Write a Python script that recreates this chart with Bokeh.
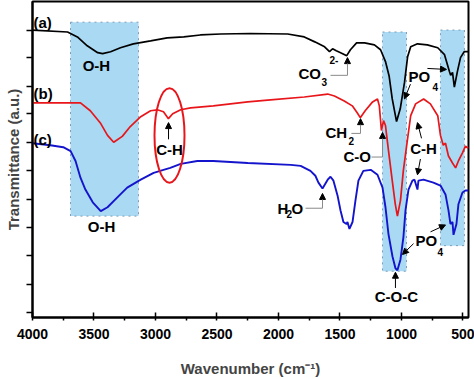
from bokeh.plotting import figure
from bokeh.models import Range1d, SingleIntervalTicker, FixedTicker, Arrow, NormalHead
from bokeh.core.properties import value
from bokeh.embed import file_html
from bokeh.resources import INLINE

# ---------------- data (wavenumber cm^-1, transmittance a.u.) ----------------
wn_a = [4000, 3715, 3635, 3555, 3470, 3430, 3365, 3285, 3180, 3040, 2905, 2770, 2635, 2470, 2230,
        1925, 1790, 1705, 1625, 1585, 1560, 1530, 1495, 1445, 1415, 1365, 1300, 1220, 1170, 1130,
        1100, 1075, 1040, 1010, 975, 950, 925, 870, 790, 705, 650, 610, 600, 585, 570, 545, 520, 490, 455]
t_a = [292, 290, 285, 276, 269, 268, 270, 274, 278, 281, 284, 285, 287, 288, 288.5,
       288, 285, 280, 275, 270, 273, 271, 269, 266, 272, 279, 279, 277, 272, 260,
       245, 222, 199, 212, 239, 265, 275, 278, 277, 274, 267, 250, 246, 249, 234, 250, 264, 270, 270]

wn_b = [4000, 3610, 3530, 3445, 3390, 3340, 3270, 3205, 3120, 3040, 2985, 2935, 2895, 2860, 2795,
        2715, 2530, 2250, 2065, 1790, 1600, 1545, 1465, 1400, 1360, 1335, 1295, 1235, 1195, 1180,
        1163, 1146, 1130, 1105, 1075, 1050, 1033, 1008, 985, 950, 925, 885, 820, 765, 705, 683,
        660, 642, 618, 585, 560, 537, 505, 480, 455]
t_b = [218, 218, 210, 197, 185, 178, 184, 194, 204, 210, 211, 209, 202, 207, 211,
       213, 215, 219, 221, 224, 227, 225, 220, 215, 208, 203, 210, 219, 222, 215,
       190, 200, 195, 169, 139, 115, 103, 119, 149, 182, 205, 217, 222, 217, 205, 185,
       175, 177, 164, 157, 152, 159, 167, 174, 172]

wn_c = [4000, 3855, 3750, 3690, 3650, 3610, 3570, 3510, 3445, 3390, 3310, 3230, 3120, 3015, 2935,
        2880, 2795, 2660, 2530, 2250, 1900, 1820, 1740, 1700, 1675, 1642, 1600, 1577, 1553, 1520,
        1496, 1472, 1447, 1439, 1423, 1398, 1374, 1350, 1310, 1250, 1195, 1154, 1130, 1106, 1073,
        1049, 1033, 1008, 984, 967, 943, 911, 894, 870, 862, 821, 740, 683, 642, 618, 602, 585,
        577, 553, 537, 504, 480, 455]
t_c = [177, 175, 173, 169, 159, 142, 130, 117, 108, 112, 122, 132, 140, 147, 150,
       152, 156, 159, 159, 157, 155, 154, 149, 144, 137, 131, 140, 143, 139, 124,
       109, 97, 95, 97, 90, 97, 119, 139, 149, 150, 145, 132, 112, 85, 62,
       50, 48, 59, 82, 109, 130, 139, 140, 130, 139, 140, 137, 134, 125, 109, 95, 97,
       84, 95, 115, 127, 129, 129]

# shaded absorption bands
band_left = [3691, 1154, 683]
band_right = [3138, 959, 488]
band_top = [300, 290, 292]
band_bottom = [103, 47, 73]

ytick_vals = [5, 34, 63, 91, 120, 149, 178, 207, 235, 264, 292]

BLACK = "#000000"
RED = "#e8161b"
BLUE = "#1414cc"
FONT = value("Liberation Sans")

p = figure(width=474, height=379, output_backend="svg", toolbar_location=None,
           x_range=Range1d(4000, 455), y_range=Range1d(0, 321),
           min_border_left=32, min_border_right=6, min_border_top=1, min_border_bottom=57)
p.xgrid.visible = False
p.ygrid.visible = False
p.outline_line_color = "black"
p.outline_line_width = 2
p.background_fill_color = "white"

# bands
p.quad(left=band_left, right=band_right, top=band_top, bottom=band_bottom,
       fill_color="#a9d9f3", line_color="#7c9cb8", line_dash="dotted", line_width=1)

# curves
p.line(wn_a, t_a, line_color=BLACK, line_width=1.7)
p.line(wn_b, t_b, line_color=RED, line_width=1.7)
p.line(wn_c, t_c, line_color=BLUE, line_width=1.9)

# red ellipse around C-H
p.ellipse(x=[2886], y=[185], width=244, height=96, fill_alpha=0, line_color=RED, line_width=2)

# main labels (centered)
p.text(x=[3480, 3439, 2886, 821, 1041], y=[255.5, 92, 170.5, 172, 21],
       text=["O-H", "O-H", "C-H", "C-H", "C-O-C"], text_font=FONT, text_font_style="bold",
       text_font_size="15px", text_align="center", text_baseline="middle", text_color="black")
# left-aligned labels
p.text(x=[3992, 3992, 3992, 1837, 943, 1618, 1472, 2008, 1894, 886],
       y=[300, 228, 181, 248, 244.5, 188, 164, 111, 111, 78],
       text=["(a)", "(b)", "(c)", "CO", "PO", "CH", "C-O", "H", "O", "PO"],
       text_font=FONT, text_font_style="bold", text_font_size="15px",
       text_align="left", text_baseline="middle", text_color="black")
# sub / superscripts
p.text(x=[1650, 1585, 748, 1431, 1935, 707], y=[239.5, 262, 234.5, 179.5, 105.5, 67],
       text=["3", "2-", "4", "2", "2", "4"], text_font=FONT, text_font_style="bold",
       text_font_size="10px", text_align="left", text_baseline="middle", text_color="black")

# gray leader lines
p.segment(x0=[1577, 1407, 1244, 1780], y0=[246, 187, 163, 111],
          x1=[1439, 1333, 1154, 1642], y1=[246, 187, 163, 111], line_color="#8a8a8a", line_width=1)

def arrow(x0, y0, x1, y1, color="black"):
    p.add_layout(Arrow(end=NormalHead(size=6, fill_color="black", line_color="black"),
                       x_start=x0, y_start=y0, x_end=x1, y_end=y1,
                       line_color=color, line_width=1))

arrow(1439, 246, 1439, 264, "#8a8a8a")   # CO3
arrow(1333, 187, 1333, 202, "#8a8a8a")   # CH2
arrow(1154, 163, 1154, 188, "#8a8a8a")   # C-O
arrow(1642, 111, 1642, 126, "#8a8a8a")   # H2O
arrow(2894, 181, 2894, 198)              # C-H left
arrow(927, 237, 976, 222)                # PO4 top
arrow(789, 253, 634, 252)
arrow(837, 182, 870, 198)                # C-H right
arrow(846, 161, 870, 145)
arrow(902, 75, 992, 64)                  # PO4 bottom
arrow(764, 87, 642, 94)
arrow(1049, 30, 1049, 46)                # C-O-C

# axes
xa = p.xaxis[0]
xa.ticker = SingleIntervalTicker(interval=500, num_minor_ticks=2)
xa.axis_label = "Wavenumber (cm\u207b\u00b9)"
xa.axis_line_width = 2
xa.major_tick_in = 5
xa.major_tick_out = 0
xa.minor_tick_in = 0
xa.minor_tick_out = 3
xa.major_tick_line_width = 1.5
xa.minor_tick_line_width = 1.5
xa.major_label_text_font = "Liberation Sans"
xa.major_label_text_font_style = "bold"
xa.major_label_text_font_size = "14px"
xa.major_label_text_color = "black"
xa.major_label_standoff = 8
xa.axis_label_text_font = "Liberation Sans"
xa.axis_label_text_font_style = "bold"
xa.axis_label_text_font_size = "15px"
xa.axis_label_standoff = 18

ya = p.yaxis[0]
ya.ticker = FixedTicker(ticks=ytick_vals, minor_ticks=[])
ya.major_label_overrides = {t: "" for t in ytick_vals}
ya.major_label_standoff = 0
ya.axis_label = "Transmittance (a.u.)"
ya.axis_line_width = 2
ya.major_tick_in = 0
ya.major_tick_out = 6
ya.major_tick_line_width = 1.5
ya.axis_label_text_font = "Liberation Sans"
ya.axis_label_text_font_style = "bold"
ya.axis_label_text_font_size = "15px"
ya.axis_label_standoff = 5

open("out.html", "w").write(file_html(p, INLINE))
